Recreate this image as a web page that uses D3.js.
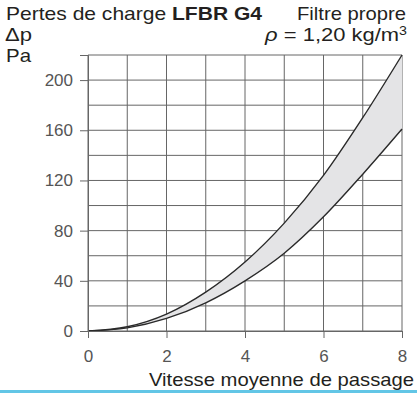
<!DOCTYPE html>
<html>
<head>
<meta charset="utf-8">
<script src="https://cdn.jsdelivr.net/npm/d3@7"></script>
<style>
  body { margin: 0; background: #fff; }
  svg { display: block; font-family: "Liberation Sans", Arial, sans-serif; }
</style>
</head>
<body>
<svg id="chart" width="417" height="393"></svg>
<script>
// speed (m/s) and pressure drop (Pa)
const speeds = [0, 1, 2, 3, 4, 5, 6, 7, 8];
const upperPa = [0, 3.4, 13.5, 31, 55, 86, 124, 170, 220];
const lowerPa = [0, 2.5, 10, 22.5, 40, 62, 91, 125, 161];
const xTicks = [0, 2, 4, 6, 8];
const yTicks = [0, 40, 80, 120, 160, 200];

const svg = d3.select('#chart');
const x = d3.scaleLinear().domain([0, 8]).range([88, 402]);
const y = d3.scaleLinear().domain([0, 220]).range([331, 55]);
const gridColor = '#666';

const rows = speeds.map((s, i) => ({ s: s, hi: upperPa[i], lo: lowerPa[i] }));

// grid
const grid = svg.append('g').attr('stroke', gridColor).attr('stroke-width', 1);
grid.selectAll('line.v').data(d3.range(0, 9)).join('line')
  .attr('x1', d => x(d)).attr('x2', d => x(d))
  .attr('y1', y(0)).attr('y2', y(220));
grid.selectAll('line.h').data(d3.range(0, 221, 20)).join('line')
  .attr('x1', x(0)).attr('x2', x(8))
  .attr('y1', d => y(d)).attr('y2', d => y(d));

// band between curves
const area = d3.area()
  .x(d => x(d.s)).y0(d => y(d.lo)).y1(d => y(d.hi))
  .curve(d3.curveMonotoneX);
svg.append('path').datum(rows)
  .attr('d', area).attr('fill', '#e4e4e6');

const lineHi = d3.line().x(d => x(d.s)).y(d => y(d.hi)).curve(d3.curveMonotoneX);
const lineLo = d3.line().x(d => x(d.s)).y(d => y(d.lo)).curve(d3.curveMonotoneX);
[lineHi, lineLo].forEach(l => {
  svg.append('path').datum(rows)
    .attr('d', l).attr('fill', 'none')
    .attr('stroke', '#2a2a2a').attr('stroke-width', 1.4);
});

// axes
const yAxis = svg.append('g').attr('transform', `translate(${x(0)},0)`)
  .call(d3.axisLeft(y).tickValues(yTicks).tickSize(8).tickPadding(7).tickFormat(d3.format('d')));
const xAxis = svg.append('g').attr('transform', `translate(0,${y(0)})`)
  .call(d3.axisBottom(x).tickValues(xTicks).tickSize(7).tickPadding(12).tickFormat(d3.format('d')));
[xAxis, yAxis].forEach(a => {
  a.select('.domain').attr('stroke', gridColor);
  a.selectAll('.tick line').attr('stroke', gridColor);
  a.selectAll('.tick text')
    .attr('fill', '#555')
    .style('font-size', '17px')
    .style('font-family', '"Liberation Sans", Arial, sans-serif');
});

// titles (the original type is set a little wide, so stretch to the measured widths)
const txt = '#231f20';
const label = (xx, yy, anchor, len) => svg.append('text')
  .attr('x', xx).attr('y', yy).attr('text-anchor', anchor)
  .attr('fill', txt).style('font-size', '18.5px')
  .attr('textLength', len).attr('lengthAdjust', 'spacingAndGlyphs');

const title = label(6, 20, 'start', 256);
title.append('tspan').text('Pertes de charge ');
title.append('tspan').attr('font-weight', 'bold').text('LFBR G4');

label(406, 20, 'end', 109).text('Filtre propre');

const rho = svg.append('text').attr('x', 407).attr('y', 41).attr('text-anchor', 'end')
  .attr('fill', txt).style('font-size', '18.5px');
rho.append('tspan').attr('font-style', 'italic').text('ρ');
rho.append('tspan').text(' = 1,20 kg/m');
rho.append('tspan').attr('dy', -6).style('font-size', '12px').text('3');
const rhoW = rho.node().getComputedTextLength();
rho.attr('transform', `translate(407,0) scale(${142 / rhoW},1) translate(-407,0)`);

label(5, 41, 'start', 27).text('Δp');
label(6, 62, 'start', 25).text('Pa');

label(414, 386, 'end', 265).text('Vitesse moyenne de passage');

// bottom blue rule
svg.append('rect').attr('x', 0).attr('y', 390).attr('width', 417).attr('height', 3)
  .attr('fill', '#62c6e6');
</script>
</body>
</html>
